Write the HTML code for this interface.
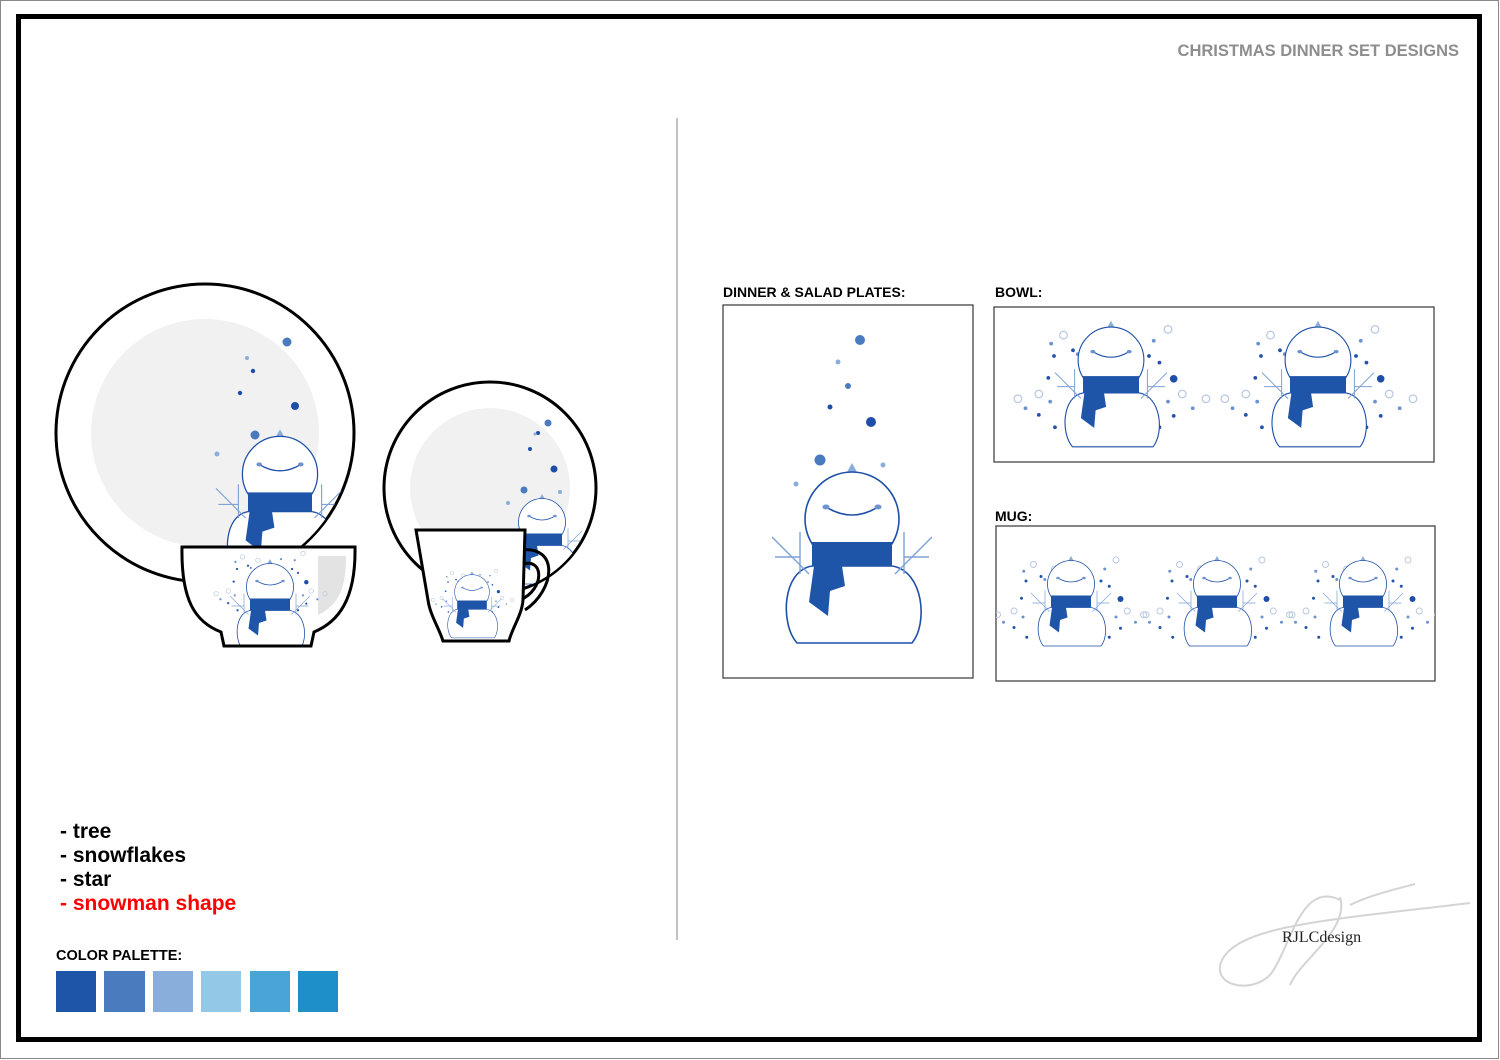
<!DOCTYPE html>
<html><head><meta charset="utf-8"><style>
html,body{margin:0;padding:0;background:#fff}
svg{display:block}
text{font-family:"Liberation Sans",Arial,sans-serif}
</style></head><body>
<svg width="1500" height="1060" viewBox="0 0 1500 1060" xmlns="http://www.w3.org/2000/svg">
<defs>
<g id="sm">
  <path d="M-5,-47 L0,-56 L5,-47 Z" fill="#8aaedb"/>
  <circle cx="0" cy="0" r="47" fill="#fff" stroke="#1e4fa8" stroke-width="1.6"/>
  <path d="M-26,-12 Q0,4 26,-12" fill="none" stroke="#1e4fa8" stroke-width="1.6"/>
  <ellipse cx="-26" cy="-12" rx="3.5" ry="2.5" fill="#6c93cf"/>
  <ellipse cx="26" cy="-12" rx="3.5" ry="2.5" fill="#6c93cf"/>
  <path d="M-40,47 C-70,52 -72,105 -55,124 L60,124 C76,105 72,52 40,47 Z" fill="#fff" stroke="#1e4fa8" stroke-width="1.6"/>
  <rect x="-40" y="23" width="80" height="24" fill="#1e55a8"/>
  <polygon points="-38,47 -10,47 -7,67 -22,72 -24,97 -43,83" fill="#1e55a8"/>
  <g stroke="#7ea1d6" stroke-width="1.4" fill="none">
    <path d="M-43,55 L-80,18 M-77,38 L-52,38 M-52,13 L-52,55"/>
    <path d="M43,55 L80,18 M77,38 L52,38 M52,13 L52,55"/>
  </g>
</g>
<g id="fl">
  <circle cx="-50" cy="-42" r="4" fill="none" stroke="#b8c8e0" stroke-width="1.3"/>
  <circle cx="-22" cy="-36" r="4" fill="none" stroke="#b8c8e0" stroke-width="1.3"/>
  <circle cx="60" cy="-48" r="4" fill="none" stroke="#b8c8e0" stroke-width="1.3"/>
  <circle cx="-98" cy="25" r="4" fill="none" stroke="#b8c8e0" stroke-width="1.3"/>
  <circle cx="-76" cy="20" r="4" fill="none" stroke="#b8c8e0" stroke-width="1.3"/>
  <circle cx="75" cy="20" r="4" fill="none" stroke="#b8c8e0" stroke-width="1.3"/>
  <circle cx="100" cy="25" r="4" fill="none" stroke="#b8c8e0" stroke-width="1.3"/>
  <g fill="#2453aa">
    <circle cx="-60" cy="-20" r="2"/><circle cx="-66" cy="3" r="2"/><circle cx="-40" cy="-26" r="2"/>
    <circle cx="40" cy="-20" r="2"/><circle cx="51" cy="-13" r="2"/><circle cx="-76" cy="42" r="2"/>
    <circle cx="-59" cy="55" r="2"/><circle cx="51" cy="55" r="2"/><circle cx="66" cy="43" r="2"/>
    <circle cx="66" cy="4" r="4" fill="#1e4fa8"/>
  </g>
  <g fill="#6c93cf">
    <circle cx="-63" cy="-33" r="2"/><circle cx="-35" cy="-22" r="2"/><circle cx="20" cy="-38" r="2"/>
    <circle cx="45" cy="-36" r="2"/><circle cx="-90" cy="35" r="2"/><circle cx="-64" cy="28" r="2"/>
    <circle cx="60" cy="28" r="2"/><circle cx="86" cy="35" r="2"/>
  </g>
</g>
<clipPath id="cp1"><circle cx="205" cy="433" r="148"/></clipPath>
<clipPath id="cp2"><circle cx="490" cy="488" r="105"/></clipPath>
<clipPath id="cpb"><path d="M182,547 L355,547 C356,600 338,622 314,632 L311,646 L224,646 L221,632 C195,622 181,600 182,547 Z"/></clipPath>
<clipPath id="cpm"><path d="M416,530 L525,530 L523,600 C522,615 512,628 509,641 L443,641 C439,628 430,615 428,600 Z"/></clipPath>
</defs>

<rect x="0.5" y="0.5" width="1498" height="1058" fill="#fff" stroke="#888" stroke-width="1"/>
<rect x="18.5" y="16.5" width="1461" height="1023" fill="none" stroke="#000" stroke-width="5"/>

<text x="1459" y="56" text-anchor="end" font-size="16.5" font-weight="bold" fill="#8e8e8e">CHRISTMAS DINNER SET DESIGNS</text>
<line x1="677" y1="118" x2="677" y2="940" stroke="#999" stroke-width="1.2"/>

<circle cx="205" cy="433" r="149" fill="#fff" stroke="#000" stroke-width="3"/>
<circle cx="205" cy="433" r="114" fill="#f1f1f1"/>
<g fill="#4a7bbf"><circle cx="287" cy="342" r="4.5"/><circle cx="255" cy="435" r="4.5"/></g>
<g fill="#1e4fa8"><circle cx="295" cy="406" r="4"/><circle cx="240" cy="393" r="2.2"/><circle cx="253" cy="371" r="2.2"/></g>
<g fill="#8aaedb"><circle cx="247" cy="358" r="2"/><circle cx="278" cy="439" r="2.5"/><circle cx="217" cy="454" r="2.5"/></g>
<g clip-path="url(#cp1)"><use href="#sm" transform="translate(280,474) scale(0.8)"/></g>

<circle cx="490" cy="488" r="106" fill="#fff" stroke="#000" stroke-width="3"/>
<circle cx="490" cy="488" r="80" fill="#f1f1f1"/>
<g fill="#4a7bbf"><circle cx="548" cy="423" r="3.5"/><circle cx="524" cy="490" r="3.5"/></g>
<g fill="#1e4fa8"><circle cx="554" cy="469" r="3.5"/><circle cx="530" cy="449" r="2"/><circle cx="538" cy="433" r="2"/></g>
<g fill="#8aaedb"><circle cx="535" cy="434" r="1.5"/><circle cx="508" cy="503" r="2"/><circle cx="560" cy="492" r="2"/></g>
<g clip-path="url(#cp2)"><use href="#sm" transform="translate(542,522) scale(0.5)"/></g>

<path d="M182,547 L355,547 C356,600 338,622 314,632 L311,646 L224,646 L221,632 C195,622 181,600 182,547 Z" fill="#fff"/>
<path d="M318,556 L346,556 C346,590 338,605 318,615 Z" fill="#e3e3e3"/>
<g clip-path="url(#cpb)">
<use href="#fl" transform="translate(270,580) scale(0.55)"/>
<use href="#sm" transform="translate(270,587) scale(0.5)"/>
</g>
<path d="M182,547 L355,547 C356,600 338,622 314,632 L311,646 L224,646 L221,632 C195,622 181,600 182,547 Z" fill="none" stroke="#000" stroke-width="3"/>

<path d="M520,550 C560,545 555,590 525,610" fill="none" stroke="#000" stroke-width="3"/>
<path d="M520,565 C545,555 545,590 520,600" fill="none" stroke="#000" stroke-width="3"/>
<path d="M416,530 L525,530 L523,600 C522,615 512,628 509,641 L443,641 C439,628 430,615 428,600 Z" fill="#fff"/>
<g clip-path="url(#cpm)">
<use href="#fl" transform="translate(472,590) scale(0.4)"/>
<use href="#sm" transform="translate(472,592) scale(0.37)"/>
</g>
<path d="M416,530 L525,530 L523,600 C522,615 512,628 509,641 L443,641 C439,628 430,615 428,600 Z" fill="none" stroke="#000" stroke-width="3"/>

<g font-size="21" font-weight="bold">
<text x="60" y="838" fill="#000">- tree</text>
<text x="60" y="862" fill="#000">- snowflakes</text>
<text x="60" y="886" fill="#000">- star</text>
<text x="60" y="910" fill="#f00">- snowman shape</text>
</g>
<text x="56" y="960" font-size="14.5" font-weight="bold" fill="#000">COLOR PALETTE:</text>
<rect x="56" y="971" width="40" height="41" fill="#1e55a8"/>
<rect x="104" y="971" width="41" height="41" fill="#4a7bbf"/>
<rect x="153" y="971" width="40" height="41" fill="#8aaedb"/>
<rect x="201" y="971" width="40" height="41" fill="#93c9e6"/>
<rect x="250" y="971" width="40" height="41" fill="#48a5d6"/>
<rect x="298" y="971" width="40" height="41" fill="#1e8fc9"/>

<g font-size="14" font-weight="bold" fill="#000">
<text x="723" y="297">DINNER &amp; SALAD PLATES:</text>
<text x="995" y="297">BOWL:</text>
<text x="995" y="521">MUG:</text>
</g>
<rect x="723" y="305" width="250" height="373" fill="#fff" stroke="#444" stroke-width="1.3"/>
<g fill="#4a7bbf"><circle cx="860" cy="340" r="5"/><circle cx="820" cy="460" r="5.5"/><circle cx="848" cy="386" r="3"/></g>
<g fill="#1e4fa8"><circle cx="871" cy="422" r="5"/><circle cx="830" cy="407" r="2.5"/></g>
<g fill="#8aaedb"><circle cx="838" cy="362" r="2.5"/><circle cx="883" cy="465" r="2.5"/><circle cx="796" cy="484" r="2.5"/></g>
<use href="#sm" transform="translate(852,519)"/>

<rect x="994" y="307" width="440" height="155" fill="#fff" stroke="#444" stroke-width="1.3"/>
<use href="#fl" transform="translate(1111,375) scale(0.95)"/>
<use href="#sm" transform="translate(1111,360) scale(0.7)"/>
<use href="#fl" transform="translate(1318,375) scale(0.95)"/>
<use href="#sm" transform="translate(1318,360) scale(0.7)"/>

<rect x="996" y="526" width="439" height="155" fill="#fff" stroke="#444" stroke-width="1.3"/>
<svg x="996" y="526" width="439" height="155" viewBox="996 526 439 155">
<use href="#fl" transform="translate(1071,596) scale(0.75)"/>
<use href="#sm" transform="translate(1071,584) scale(0.5)"/>
<use href="#fl" transform="translate(1217,596) scale(0.75)"/>
<use href="#sm" transform="translate(1217,584) scale(0.5)"/>
<use href="#fl" transform="translate(1363,596) scale(0.75)"/>
<use href="#sm" transform="translate(1363,584) scale(0.5)"/>
</svg>

<g fill="none" stroke="#d4d4d4" stroke-width="2">
<path d="M1340,900 C1300,880 1290,950 1270,975 C1250,995 1210,985 1222,960 C1240,925 1330,920 1470,903"/>
<path d="M1340,897 C1350,930 1300,960 1290,985"/>
<path d="M1350,905 C1370,895 1400,888 1415,884"/>
</g>
<text x="1282" y="942" font-size="16" fill="#222" style="font-family:'Liberation Serif',serif">RJLCdesign</text>
</svg>
</body></html>
